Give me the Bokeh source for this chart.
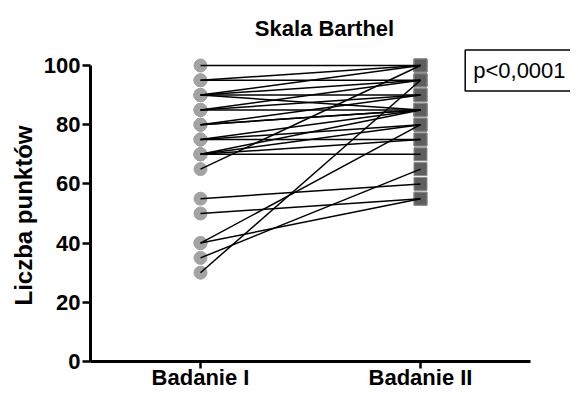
import math
from bokeh.plotting import figure
from bokeh.models import ColumnDataSource, Label, FixedTicker, Range1d
from bokeh.embed import file_html
from bokeh.resources import INLINE

# ---- data ----
groups = ["Badanie I", "Badanie II"]
group_pos = [1, 2]
badanie_1 = [100, 95, 95, 90, 90, 90, 90, 85, 85, 85, 80, 80, 80, 75, 75, 75,
             70, 70, 70, 70, 65, 55, 50, 40, 40, 35, 30]
badanie_2 = [100, 100, 95, 100, 95, 90, 85, 95, 90, 85, 90, 85, 85, 85, 75, 80,
             85, 80, 70, 75, 100, 60, 55, 80, 55, 65, 95]
y_ticks = [0, 20, 40, 60, 80, 100]
title_text = "Skala Barthel"
y_label = "Liczba punktów"
p_text = "p<0,0001"

FONT = "Liberation Sans"
W, H = 570, 390

p = figure(width=W, height=H,
           x_range=Range1d(0.09091, 2.68182), y_range=Range1d(-9.797, 121.96),
           output_backend="svg", toolbar_location=None, title=None,
           min_border_left=0, min_border_right=0, min_border_top=0, min_border_bottom=0)
p.xgrid.visible = False
p.ygrid.visible = False
p.outline_line_color = None
p.background_fill_color = "white"
p.border_fill_color = "white"

# markers first, lines on top
left_src = ColumnDataSource(dict(x=[group_pos[0]] * len(badanie_1), y=badanie_1))
right_src = ColumnDataSource(dict(x=[group_pos[1]] * len(badanie_2), y=badanie_2))
p.scatter("x", "y", source=left_src, marker="circle", size=13,
          fill_color="#a3a3a3", line_color="#a3a3a3")
p.scatter("x", "y", source=right_src, marker="square", size=13,
          fill_color="#5e5e5e", line_color="#8a8a8a", line_width=1)

line_src = ColumnDataSource(dict(
    xs=[[group_pos[0], group_pos[1]] for _ in badanie_1],
    ys=[[a, b] for a, b in zip(badanie_1, badanie_2)]))
p.multi_line("xs", "ys", source=line_src, line_color="black", line_width=1.5)

# y axis
ya = p.yaxis[0]
ya.fixed_location = 0.5
ya.ticker = FixedTicker(ticks=y_ticks)
ya.bounds = (0, 100)
ya.axis_line_width = 3
ya.major_tick_line_width = 2.5
ya.major_tick_out = 8
ya.major_tick_in = 0
ya.minor_tick_line_color = None
ya.major_label_text_font = FONT
ya.major_label_text_font_style = "bold"
ya.major_label_text_font_size = "22px"
ya.major_label_text_color = "black"
ya.major_label_standoff = 2

# x axis
xa = p.xaxis[0]
xa.fixed_location = 0
xa.ticker = FixedTicker(ticks=group_pos)
xa.bounds = (0.5, 2.5)
xa.major_label_overrides = {pos: g for pos, g in zip(group_pos, groups)}
xa.axis_line_width = 3
xa.major_tick_line_width = 2.5
xa.major_tick_out = 7
xa.major_tick_in = 0
xa.minor_tick_line_color = None
xa.major_label_text_font = FONT
xa.major_label_text_font_style = "bold"
xa.major_label_text_font_size = "22px"
xa.major_label_text_color = "black"
xa.major_label_standoff = -4

# y axis title
p.add_layout(Label(x=0.1955, y=49.32, text=y_label, text_font=FONT,
                   text_font_style="bold", text_font_size="24px", text_color="black",
                   text_align="center", text_baseline="middle", angle=math.pi / 2))

# title
p.add_layout(Label(x=1.5636, y=112.5, text=title_text, text_font=FONT,
                   text_font_style="bold", text_font_size="22px", text_color="black",
                   text_align="center", text_baseline="alphabetic"))

# p-value box
p.add_layout(Label(x=2.2032, y=105.24, text=p_text, text_font=FONT,
                   text_font_size="22px", text_color="black",
                   text_align="left", text_baseline="top",
                   border_line_color="black", border_line_width=1.5,
                   background_fill_color="white", padding=8))

open("out.html", "w").write(file_html(p, INLINE))
